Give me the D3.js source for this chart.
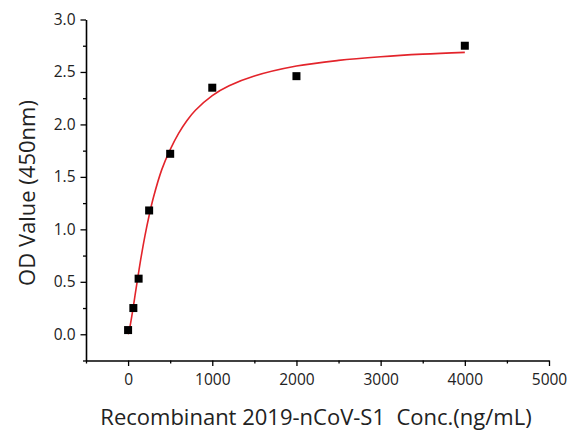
<!DOCTYPE html>
<html><head><meta charset="utf-8">
<script src="https://cdn.jsdelivr.net/npm/d3@7"></script>
<style>body{margin:0;background:#fff}</style>
</head><body>
<svg id="c" width="575" height="430"></svg>
<script>
const concX = [0, 62.5, 125, 250, 500, 1000, 2000, 4000];
const odY = [0.04, 0.25, 0.53, 1.18, 1.72, 2.35, 2.46, 2.75];
const fitX = [0, 10, 25, 50, 75, 100, 150, 200, 250, 300, 400, 500, 600, 700, 800, 1000, 1200, 1500, 2000, 2500, 3000, 3500, 4000];
const fitY = [0, 0.025, 0.083, 0.202, 0.331, 0.462, 0.713, 0.937, 1.132, 1.301, 1.569, 1.760, 1.915, 2.038, 2.135, 2.275, 2.368, 2.461, 2.556, 2.610, 2.645, 2.670, 2.687];
const xTicks = [0, 1000, 2000, 3000, 4000, 5000];
const yTicks = [0.0, 0.5, 1.0, 1.5, 2.0, 2.5, 3.0];

const svg = d3.select("#c");
const x = d3.scaleLinear().domain([-500, 5000]).range([86, 549]);
const y = d3.scaleLinear().domain([-0.25, 3.0]).range([360.5, 19.5]);
const font = "'Open Sans', sans-serif";

const xMinor = d3.range(-500, 5001, 500).filter(v => v % 1000 !== 0);
const yMinor = d3.range(-0.25, 3.001, 0.25).filter(v => Math.abs((v*2) - Math.round(v*2)) > 1e-6);

svg.append("g").attr("transform", `translate(0,${y.range()[0]})`)
  .call(d3.axisBottom(x).tickValues(xTicks).tickSize(5.5).tickSizeOuter(0).tickPadding(8).tickFormat(d3.format("d")));
svg.append("g").attr("transform", `translate(0,${y.range()[0]})`)
  .call(d3.axisBottom(x).tickValues(xMinor).tickSize(3).tickFormat(""))
  .select(".domain").remove();
svg.append("g").attr("transform", `translate(${x.range()[0]},0)`)
  .call(d3.axisLeft(y).tickValues(yTicks).tickSize(5.5).tickSizeOuter(0).tickPadding(5).tickFormat(d3.format(".1f")));
svg.append("g").attr("transform", `translate(${x.range()[0]},0)`)
  .call(d3.axisLeft(y).tickValues(yMinor).tickSize(3).tickFormat(""))
  .select(".domain").remove();

svg.selectAll(".domain").attr("stroke", "#000").attr("stroke-width", 1.6);
svg.selectAll(".tick line").attr("stroke", "#000").attr("stroke-width", 1.3);
svg.selectAll(".tick text").attr("fill", "#222").style("font-family", font).style("font-size", "15.5px");

// fit curve
svg.append("path")
  .datum(fitX.map((d, i) => [d, fitY[i]]))
  .attr("fill", "none").attr("stroke", "#e3242b").attr("stroke-width", 1.6)
  .attr("d", d3.line().x(d => x(d[0])).y(d => y(d[1])).curve(d3.curveCatmullRom.alpha(0.5)));

// points
const s = 8;
svg.selectAll("rect.pt").data(concX.map((d, i) => [d, odY[i]])).join("rect")
  .attr("class", "pt")
  .attr("x", d => x(d[0]) - s/2).attr("y", d => y(d[1]) - s/2)
  .attr("width", s).attr("height", s).attr("fill", "#000");

// titles
svg.append("text").attr("x", 316).attr("y", 425).attr("text-anchor", "middle")
  .style("font-family", font).style("font-size", "22px").attr("fill", "#222")
  .attr("xml:space", "preserve")
  .text("Recombinant 2019-nCoV-S1  Conc.(ng/mL)");
svg.append("text").attr("transform", "translate(35,193) rotate(-90)").attr("text-anchor", "middle")
  .style("font-family", font).style("font-size", "22px").attr("fill", "#222")
  .text("OD Value (450nm)");
</script>
</body></html>
